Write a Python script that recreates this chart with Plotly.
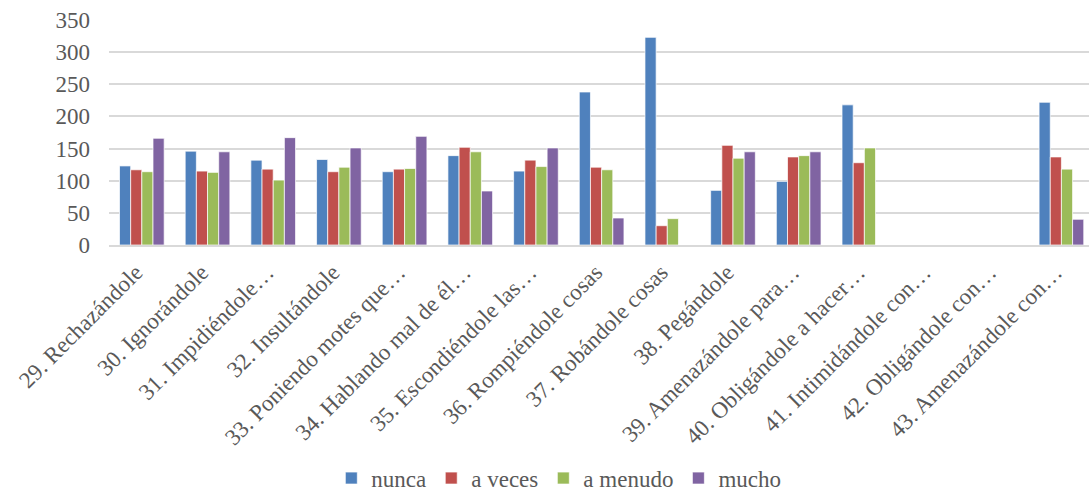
import plotly.graph_objects as go

categories = ["29. Rechazándole", "30. Ignorándole", "31. Impidiéndole…", "32. Insultándole",
              "33. Poniendo motes que…", "34. Hablando mal de él…", "35. Escondiéndole las…",
              "36. Rompiéndole cosas", "37. Robándole cosas", "38. Pegándole",
              "39. Amenazándole para…", "40. Obligándole a hacer…", "41. Intimidándole con…",
              "42. Obligándole con…", "43. Amenazándole con…"]
nunca = [123, 146, 132, 133, 114, 139, 115, 238, 323, 85, 99, 218, 0, 0, 222]
a_veces = [117, 115, 118, 114, 118, 152, 132, 121, 30, 155, 137, 128, 0, 0, 137]
a_menudo = [114, 113, 101, 121, 119, 145, 122, 117, 41, 135, 139, 151, 0, 0, 118]
mucho = [166, 145, 167, 151, 169, 84, 151, 42, 0, 145, 145, 0, 0, 0, 40]

series = [("nunca", nunca, "#4F81BD"), ("a veces", a_veces, "#C0504D"),
          ("a menudo", a_menudo, "#9BBB59"), ("mucho", mucho, "#8064A2")]

fig = go.Figure()
for name, vals, col in series:
    fig.add_trace(go.Bar(x=categories, y=vals, name=name, marker_color=col,
                         marker_line=dict(color="rgba(255,255,255,0.7)", width=1)))

font = dict(family="Liberation Serif", size=23, color="#595959")
fig.update_layout(
    width=1089, height=491,
    margin=dict(l=109, r=0, t=20, b=246, autoexpand=False),
    paper_bgcolor="white", plot_bgcolor="white",
    barmode="group", bargap=0.32, bargroupgap=0,
    font=font,
    showlegend=True,
    legend=dict(orientation="h", x=0.459, y=-1.036, xanchor="center", yanchor="middle",
                font=font, traceorder="normal", itemwidth=30),
)
fig.update_xaxes(type="category", tickangle=-45, range=[-0.5, 14.42], automargin=False,
                 showgrid=False, showline=True, linecolor="#D9D9D9", linewidth=1.5,
                 tickfont=font, ticks="", ticklabelshift=-6, ticklabelstandoff=3)
fig.update_yaxes(range=[0, 350], dtick=50, showgrid=True, gridcolor="#D9D9D9", gridwidth=1.5,
                 zeroline=False, tickfont=font, ticklabelstandoff=18, showline=False,
                 automargin=False)
fig.write_html("out.html", config={"displayModeBar": False},
               post_script="document.body.style.margin='0';")
